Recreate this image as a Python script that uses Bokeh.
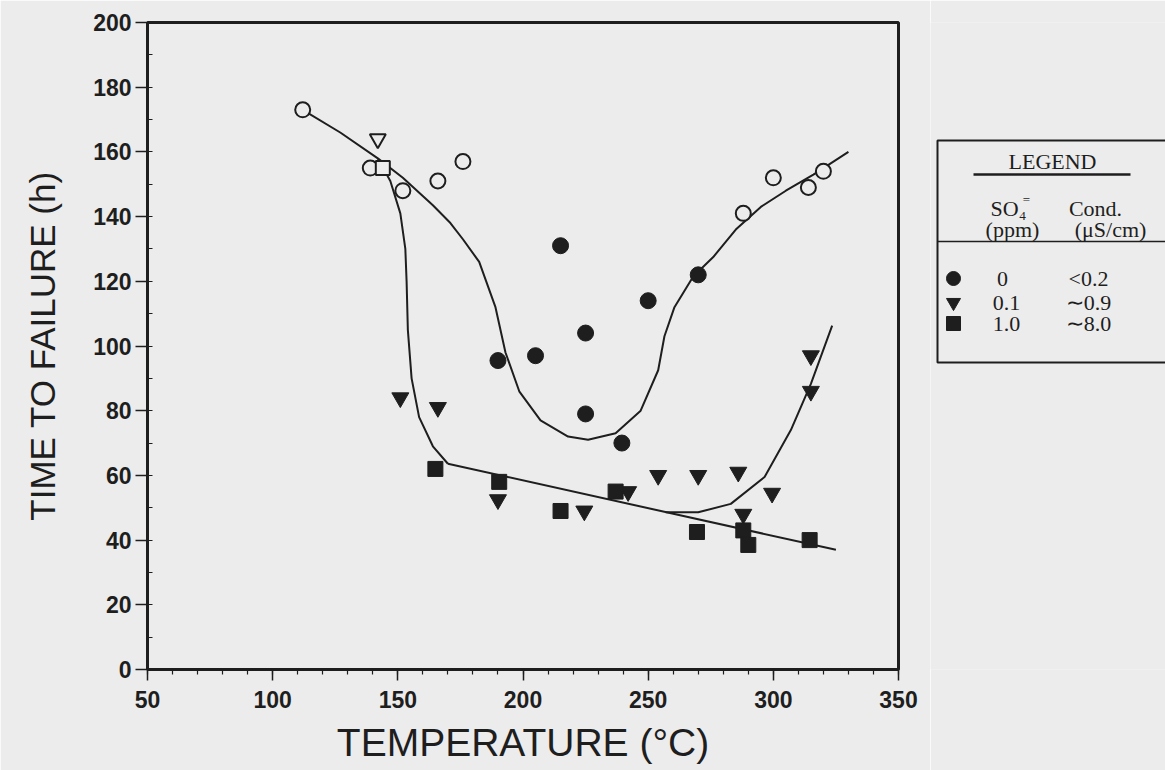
from bokeh.plotting import figure
from bokeh.layouts import row
from bokeh.models import Range1d, FixedTicker
from bokeh.core.properties import value
from bokeh.embed import file_html
from bokeh.resources import INLINE

BG = "#ececec"
INK = "#1e1e1e"

# ---------------- data ----------------
# open symbols
open_circle_x = [112, 139, 152, 166, 176, 288, 300, 314, 320]
open_circle_y = [173, 155, 148, 151, 157, 141, 152, 149, 154]
open_tri_x = [142]
open_tri_y = [164]
open_sq_x = [144]
open_sq_y = [155]

# SO4 = 0 ppm (filled circles)
c0_x = [190, 205, 215, 225, 225, 239.5, 250, 270]
c0_y = [95.5, 97, 131, 104, 79, 70, 114, 122]

# SO4 = 0.1 ppm (filled inverted triangles)
c1_x = [151, 166, 190, 224.5, 242, 254, 270, 286, 288, 299.5, 315, 315]
c1_y = [84, 81, 52.5, 49, 55, 60, 60, 61, 48, 54.5, 97, 86]

# SO4 = 1.0 ppm (filled squares)
c2_x = [165, 190.5, 215, 237, 269.5, 288, 290, 314.5]
c2_y = [62, 58, 49, 55, 42.5, 43, 38.5, 40]

# fitted curves
curveA_x = [112, 127, 142, 152, 164, 171, 176, 182.5, 189, 193, 198.5, 207, 218, 226,
            237, 247, 254, 256.5, 260.5, 268, 276, 285, 295, 305, 316, 330]
curveA_y = [173, 166, 158, 152, 143.5, 138, 133, 126, 112, 98, 86, 77, 72, 71,
            73, 80, 92.5, 103, 112, 121.5, 127.5, 136, 143, 148, 153, 160]
curveB_x = [142, 147, 151, 153, 153.5, 154, 155.5, 158.5, 164, 170]
curveB_y = [158, 151, 141, 130, 120, 105, 90, 78, 69, 63.6]
lineC_x = [170, 325]
lineC_y = [63.6, 37]
curveD_x = [257, 270, 283, 296.5, 307, 315, 323.5]
curveD_y = [48.6, 48.6, 51.2, 59.5, 74, 88.3, 106.3]

x_ticks = [50, 100, 150, 200, 250, 300, 350]
y_ticks = [0, 20, 40, 60, 80, 100, 120, 140, 160, 180, 200]

# legend content
leg_title = "LEGEND"
leg_head1 = ["SO\u2084", "(ppm)"]
leg_head2 = ["Cond.", "(\u03bcS/cm)"]
leg_so4 = ["0", "0.1", "1.0"]
leg_cond = ["<0.2", "\u223c0.9", "\u223c8.0"]
leg_markers = ["circle", "inverted_triangle", "square"]

TOP, BOTTOM = 22, 101

# ---------------- main plot ----------------
p = figure(width=930, height=770, x_range=Range1d(50, 350), y_range=Range1d(0, 200),
           output_backend="svg", toolbar_location=None,
           min_border_left=147, min_border_right=32, min_border_top=TOP, min_border_bottom=BOTTOM)
p.background_fill_color = BG
p.border_fill_color = BG
p.outline_line_color = INK
p.outline_line_width = 3
p.grid.visible = False

for ax in (p.xaxis[0], p.yaxis[0]):
    ax.axis_line_width = 3
    ax.axis_line_color = INK
    ax.major_tick_line_color = INK
    ax.minor_tick_line_color = INK
    ax.major_tick_line_width = 1.5
    ax.minor_tick_line_width = 1.2
    ax.major_label_text_font = "Liberation Sans"
    ax.major_label_text_font_style = "bold"
    ax.major_label_text_font_size = "23px"
    ax.major_label_text_color = INK
    ax.axis_label_text_font = "Liberation Sans"
    ax.axis_label_text_font_style = "normal"
    ax.axis_label_text_color = INK

p.xaxis.axis_label_text_font_size = "39px"
p.yaxis.axis_label_text_font_size = "35px"
p.xaxis.ticker = FixedTicker(ticks=x_ticks, minor_ticks=list(range(50, 351, 10)))
p.yaxis.ticker = FixedTicker(ticks=y_ticks, minor_ticks=list(range(0, 201, 10)))
p.xaxis.major_tick_out = 11
p.xaxis.major_tick_in = 0
p.xaxis.minor_tick_out = 5
p.xaxis.minor_tick_in = 0
p.yaxis.major_tick_out = 12
p.yaxis.major_tick_in = 0
p.yaxis.minor_tick_out = 0
p.yaxis.minor_tick_in = 5
p.xaxis.major_label_standoff = 10
p.yaxis.major_label_standoff = 4
p.xaxis.axis_label = "TEMPERATURE (\u00b0C)"
p.yaxis.axis_label = "TIME TO FAILURE (h)"
p.xaxis.axis_label_standoff = 10
p.yaxis.axis_label_standoff = 28

# curves
for cx, cy in ((curveA_x, curveA_y), (curveB_x, curveB_y), (lineC_x, lineC_y), (curveD_x, curveD_y)):
    p.line(cx, cy, line_color=INK, line_width=2)

# open symbols
p.scatter(open_circle_x, open_circle_y, marker="circle", size=15, fill_color=BG,
          line_color=INK, line_width=2)
p.scatter(open_tri_x, open_tri_y, marker="inverted_triangle", size=16, fill_color=BG,
          line_color=INK, line_width=2)
p.scatter(open_sq_x, open_sq_y, marker="square", size=14, fill_color=BG,
          line_color=INK, line_width=2)

# filled symbols
p.scatter(c0_x, c0_y, marker="circle", size=16, fill_color=INK, line_color=INK)
p.scatter(c1_x, c1_y, marker="inverted_triangle", size=17, fill_color=INK, line_color=INK)
p.scatter(c2_x, c2_y, marker="square", size=15, fill_color=INK, line_color=INK)

# ---------------- legend panel ----------------
# frame aligned with the main plot's frame; y range equals page pixels
lg = figure(width=235, height=770, x_range=Range1d(0, 235), y_range=Range1d(770 - BOTTOM, TOP),
            output_backend="svg", toolbar_location=None,
            min_border_left=0, min_border_right=0, min_border_top=TOP, min_border_bottom=BOTTOM)
lg.axis.visible = False
lg.grid.visible = False
lg.outline_line_color = None
lg.background_fill_color = BG
lg.border_fill_color = BG

SERIF = value("Liberation Serif")
FS = "22px"
# box
lg.line([240, 7, 7, 240], [140, 140, 362, 362], line_color=INK, line_width=2)
lg.text([122], [161], text=[leg_title], text_font=SERIF, text_font_size=FS,
        text_align="center", text_baseline="middle", text_color=INK)
lg.line([43, 200], [174, 174], line_color=INK, line_width=2.5)
lg.text([78, 82], [208, 229], text=leg_head1, text_font=SERIF, text_font_size=FS,
        text_align="center", text_baseline="middle", text_color=INK)
lg.text([96], [199], text=["="], text_font=SERIF, text_font_size="13px",
        text_align="center", text_baseline="middle", text_color=INK)
lg.text([165, 180], [208, 229], text=leg_head2, text_font=SERIF, text_font_size=FS,
        text_align="center", text_baseline="middle", text_color=INK)
lg.line([7, 240], [241, 241], line_color=INK, line_width=1.5)

rows_y = [278, 302, 323]
for mk, yy in zip(leg_markers, rows_y):
    lg.scatter([23], [yy], marker=mk, size=14, fill_color=INK, line_color=INK)
lg.text([72, 76, 76], rows_y, text=leg_so4, text_font=SERIF, text_font_size=FS,
        text_align="center", text_baseline="middle", text_color=INK)
lg.text([158, 158, 158], rows_y, text=leg_cond, text_font=SERIF, text_font_size=FS,
        text_align="center", text_baseline="middle", text_color=INK)

layout = row(p, lg, spacing=0)
open("out.html", "w").write(file_html(layout, INLINE))
